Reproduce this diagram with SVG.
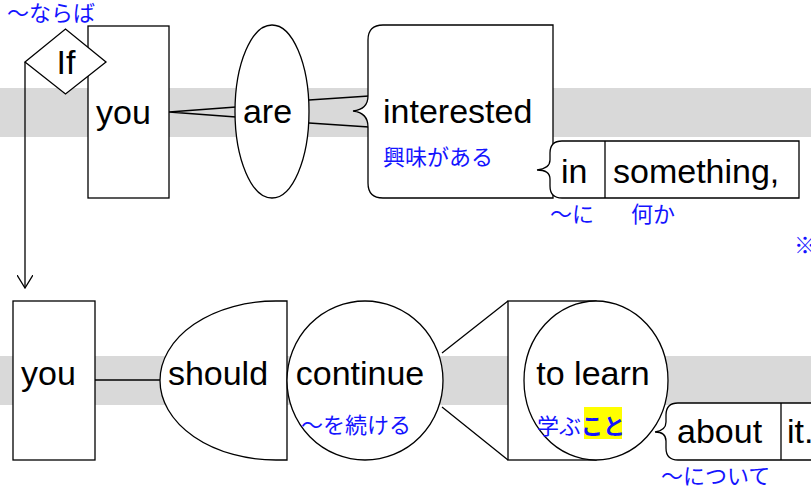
<svg xmlns="http://www.w3.org/2000/svg" width="811" height="493" viewBox="0 0 811 493">
  <style>
    .band { fill: #d9d9d9; }
    .shape { fill: #ffffff; stroke: #000000; stroke-width: 1.3; }
    .line { fill: none; stroke: #000000; stroke-width: 1.3; }
    .word { font-family: "Liberation Sans", Arial, sans-serif; font-size: 34px; fill: #000000; }
    .gloss { font-family: "Noto Sans CJK JP", "Noto Sans", sans-serif; font-size: 22px; fill: #1414ff; }
    .mid { text-anchor: middle; }
  </style>
  <defs>
    <!-- open arrowhead, drawn along +x so orient="auto" follows the line -->
    <marker id="arrow" viewBox="0 0 14 16" refX="13" refY="8" markerWidth="14" markerHeight="16" markerUnits="userSpaceOnUse" orient="auto">
      <path d="M0,0 L13,8 L0,16" fill="none" stroke="#000000" stroke-width="1.3"/>
    </marker>
  </defs>

  <rect width="811" height="493" fill="#ffffff"/>

  <!-- sentence lines -->
  <rect class="band" x="0" y="88" width="811" height="49"/>
  <rect class="band" x="0" y="356" width="811" height="49"/>

  <!-- connectors -->
  <g id="connectors">
    <path class="line" d="M25,62 V288" marker-end="url(#arrow)"/>
    <path class="line" d="M169,112 L236,107 M169,112 L236,117"/>
    <path class="line" d="M309,100 L369,96 M309,123 L369,127"/>
    <path class="line" d="M95,380 H161"/>
    <path class="line" d="M442,353 L508,301 M442,407 L508,460"/>
  </g>

  <!-- first clause -->
  <g id="node-you-1">
    <rect class="shape" x="88" y="26" width="81" height="172"/>
    <text class="word mid" x="123.5" y="124">you</text>
  </g>
  <g id="node-if">
    <polygon class="shape" points="25,62 65.5,29 106,62 65.5,94"/>
    <text class="word mid" x="66" y="74">If</text>
    <text class="gloss" x="7" y="21">〜ならば</text>
  </g>
  <g id="node-are">
    <ellipse class="shape" cx="272" cy="111.5" rx="37" ry="86.5"/>
    <text class="word mid" x="267.5" y="123">are</text>
  </g>
  <g id="node-interested">
    <path class="shape" d="M383,25 H553 V198 H383 Q368,198 368,183 V127 C368,117 362,112 353,111 C362,110 368,106 368,96 V40 Q368,25 383,25 Z"/>
    <text class="word" x="383" y="123">interested</text>
    <text class="gloss" x="383" y="165">興味がある</text>
  </g>
  <g id="node-in-something">
    <path class="shape" d="M562,141 H799 V198 H562 Q550,198 550,186 V179 C550,173 545,170 537,170 C545,169 550,166 550,160 V153 Q550,141 562,141 Z"/>
    <path class="line" d="M605,141 V198"/>
    <text class="word" x="561" y="183">in</text>
    <text class="word" x="613" y="183">something,</text>
    <text class="gloss" x="550" y="222">〜に</text>
    <text class="gloss" x="631" y="222">何か</text>
  </g>
  <g id="note">
    <text class="gloss" x="794" y="253">※</text>
  </g>

  <!-- main clause -->
  <g id="node-you-2">
    <rect class="shape" x="13" y="301" width="82" height="159"/>
    <text class="word mid" x="48.5" y="385">you</text>
  </g>
  <g id="node-should">
    <path class="shape" d="M287,301 H276 A116,79.5 0 0 0 160,380.5 A116,79.5 0 0 0 276,460 H287 Z"/>
    <text class="word mid" x="218" y="385">should</text>
  </g>
  <g id="node-continue">
    <ellipse class="shape" cx="365" cy="380.5" rx="78" ry="79.5"/>
    <text class="word mid" x="360" y="385">continue</text>
    <text class="gloss" x="301" y="433">〜を続ける</text>
  </g>
  <g id="node-to-learn">
    <rect class="shape" x="508" y="301" width="88" height="159"/>
    <ellipse class="shape" cx="596" cy="380.5" rx="72" ry="79.5"/>
    <text class="word mid" x="593" y="385">to learn</text>
    <rect x="584" y="407" width="38" height="32" fill="#ffff00"/>
    <text class="gloss" x="537" y="434">学ぶ<tspan font-weight="bold">こと</tspan></text>
  </g>
  <g id="node-about-it">
    <path class="shape" d="M678,403 H830 V460 H678 Q666,460 666,448 V441 C666,435 662,432 655,432 C662,431 666,428 666,422 V415 Q666,403 678,403 Z"/>
    <path class="line" d="M781,403 V460"/>
    <text class="word" x="677" y="443">about</text>
    <text class="word" x="787" y="443">it.</text>
    <text class="gloss" x="661" y="484">〜について</text>
  </g>
</svg>
